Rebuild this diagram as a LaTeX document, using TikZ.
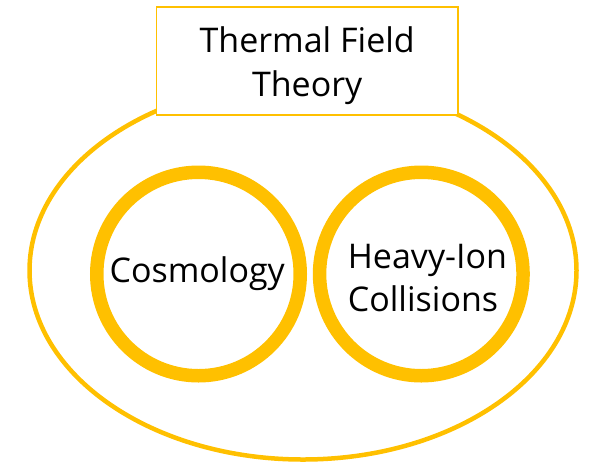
\documentclass[tikz,border=0pt]{standalone}
\usepackage{fontspec}
\setmainfont{Open Sans}
\definecolor{gold}{HTML}{FFC000}
\begin{document}
\begin{tikzpicture}[x=1pt,y=-1pt,
  ring/.style={draw=gold,line width=13.5pt},
  outer/.style={draw=gold,line width=4.5pt},
  boxline/.style={draw=gold,line width=1.8pt,fill=white},
  lbl/.style={font=\fontsize{34}{43.4}\selectfont,inner sep=0pt,text=black}]
\useasboundingbox (0,0) rectangle (596,464);
\draw[outer] (303,270.5) ellipse [x radius=273.5, y radius=189];
\draw[boxline] (156.5,7) rectangle (458.3,115);
\node[lbl,align=center,anchor=center] (ttf) at (307.2,65.6) {Thermal Field\\Theory};
\draw[ring] (198.5,274) circle [radius=101.75];
\draw[ring] (421.3,274) circle [radius=101.75];
\node[lbl,anchor=base] (cos) at (197.2,282.7) {Cosmology};
\node[lbl,align=left,anchor=west] (hic) at (347.7,278) {Heavy-Ion\\Collisions};
\end{tikzpicture}
\end{document}
